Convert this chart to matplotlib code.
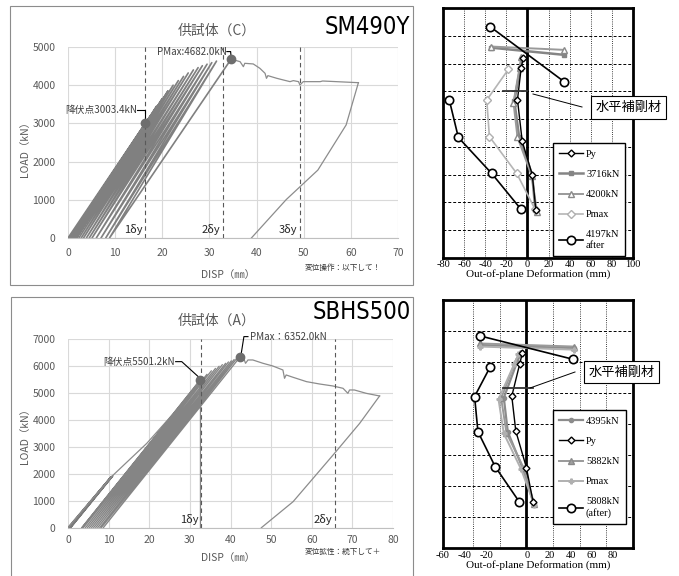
import matplotlib.pyplot as plt
import numpy as np
from matplotlib.patches import Rectangle
from matplotlib.lines import Line2D

plt.rcParams['font.family'] = ['Noto Sans CJK JP', 'DejaVu Sans']
SERIF = 'Liberation Serif'

# ---------------- SM490Y : load - displacement ----------------
c_start = [0.0, 0.3, 0.6, 1.0, 1.4, 1.8, 2.3, 2.8, 3.3, 3.9, 4.5, 5.1, 6.0, 7.0, 8.0, 8.8]
c_peak_x = [16.4, 17.5, 18.8, 20.0, 21.2, 22.3, 23.4, 24.5, 25.5, 26.6, 27.6, 28.5, 29.5, 30.5, 31.5, 34.6]
c_peak_y = [3003, 3200, 3450, 3650, 3850, 4000, 4120, 4230, 4320, 4400, 4460, 4510, 4550, 4590, 4630, 4682]
c_post_x = [34.6, 36.5, 37.2, 37.5, 39.3, 40.7, 41.8, 42.1, 42.4, 44.3, 45.7, 47.1, 47.8, 48.9, 49.2,
            49.9, 53.5, 54.0, 61.6]
c_post_y = [4682, 4616, 4485, 4573, 4556, 4442, 4311, 4180, 4250, 4180, 4136, 4093, 4120, 4093, 4005,
            4093, 4093, 4110, 4066]
c_unload_x = [61.6, 59.0, 53.0, 46.3, 38.9]
c_unload_y = [4066, 2960, 1778, 1007, 0]
c_yield = (16.4, 3003.4)
c_pmax = (34.6, 4682.0)
c_dy = [16.4, 32.8, 49.2]
c_dy_labels = ['1δy', '2δy', '3δy']

# ---------------- SBHS500 : load - displacement ----------------
a_first_x = [0.0, 10.7, 19.4, 26.0, 32.6]
a_first_y = [0, 1895, 3135, 4250, 5501]
a_small_start = [0.0, 0.2, 0.4, 0.6]
a_small_px = [10.4, 10.6, 10.8, 11.0]
a_small_py = [1850, 1880, 1900, 1920]
a_start = [3.4, 3.8, 4.3, 4.8, 5.3, 5.8, 6.3, 6.8, 7.3, 7.8, 8.2, 8.7]
a_peak_x = [33.0, 34.2, 35.3, 36.3, 37.2, 38.0, 38.8, 39.5, 40.2, 40.9, 41.6, 42.4]
a_peak_y = [5550, 5700, 5830, 5920, 6000, 6060, 6110, 6160, 6200, 6250, 6300, 6352]
a_post_x = [42.4, 43.1, 43.7, 44.3, 45.5, 48.0, 50.4, 52.9, 53.3, 53.7, 55.4, 58.7, 61.9, 65.2, 67.7,
            68.9, 69.3, 70.5, 73.4, 76.7]
a_post_y = [6352, 6356, 6108, 6232, 6232, 6108, 6009, 5860, 5551, 5675, 5588, 5427, 5340, 5266, 5179,
            4993, 5117, 5117, 4993, 4894]
a_unload_x = [76.7, 71.8, 65.6, 55.4, 47.6]
a_unload_y = [4894, 3878, 2763, 966, 0]
a_yield = (32.6, 5501.2)
a_pmax = (42.4, 6352.0)
a_dy = [32.8, 65.6]
a_dy_labels = ['1δy', '2δy']

# ---------------- out-of-plane deformation (top) ----------------
nan = np.nan
t_py_x = [-4, -6, -9.5, -5, 4.5, 8]
t_py_y = [7.2, 6.85, 5.7, 4.2, 3.0, 1.72]
t_3716_x = [-34.6, 34.9, nan, -5.4, -7.0, -12.5, -8.0, 4.5, 7.5]
t_3716_y = [7.58, 7.32, nan, 7.2, 6.83, 5.65, 4.37, 2.98, 1.72]
t_4200_x = [-34.6, 34.9, nan, -6, -7.5, -13.3, -9.5, 4.1, 9]
t_4200_y = [7.62, 7.5, nan, 7.25, 6.85, 5.6, 4.35, 2.95, 1.65]
t_pmax_x = [-18.1, -38.7, -36.2, -10.2, 7.3]
t_pmax_y = [6.80, 5.69, 4.37, 3.04, 1.74]
t_after_x = [-35.6, 34.9, nan, -74.3, -65.7, -34.0, -6.0]
t_after_y = [8.34, 6.35, nan, 5.69, 4.34, 3.04, 1.74]

# ---------------- out-of-plane deformation (bottom) ----------------
b_4395_x = [-35, 36, nan, -4, -7, -17, -14, -3, 5.5]
b_4395_y = [6.55, 6.45, nan, 6.3, 6.0, 4.85, 3.75, 2.6, 1.45]
b_py_x = [-3, -5, -11, -8, 0, 5]
b_py_y = [6.3, 5.95, 4.9, 3.78, 2.6, 1.5]
b_5882_x = [-35, 36, nan, -5, -8, -19, -15, -2, 6]
b_5882_y = [6.6, 6.5, nan, 6.3, 6.05, 4.83, 3.72, 2.58, 1.42]
b_pmax_x = [-35, 36, nan, -6, -9, -21, -17, -4, 6]
b_pmax_y = [6.5, 6.4, nan, 6.25, 5.95, 4.8, 3.7, 2.55, 1.4]
b_after_x = [-34.6, 35.1, nan, -27.2, -39.0, -36.5, -23.5, -5.4]
b_after_y = [6.84, 6.09, nan, 5.85, 4.89, 3.76, 2.63, 1.50]

W, H = 679, 576
fig = plt.figure(figsize=(W / 100, H / 100), dpi=100)


def fpos(l, t, r, b):
    return [l / W, 1 - b / H, (r - l) / W, (b - t) / H]


def fx(px):
    return px / W


def fy(py):
    return 1 - py / H


def loops(ax, starts, pxs, pys, color, lw):
    xs, ys = [], []
    for s, px, py in zip(starts, pxs, pys):
        xs += [s, px]
        ys += [0, py]
    ax.plot(xs, ys, color=color, lw=lw, solid_joinstyle='round')


def style_left(ax, xmax, ymax, ystep, xpad):
    ax.set_xlim(0, xmax)
    ax.set_ylim(0, ymax)
    ax.set_xticks(range(0, xmax + 1, 10))
    ax.set_yticks(range(0, ymax + 1, ystep))
    ax.grid(True, color='#d9d9d9', lw=0.8)
    ax.set_axisbelow(True)
    for s in ax.spines.values():
        s.set_visible(False)
    ax.spines['bottom'].set_visible(True)
    ax.spines['bottom'].set_color('#bfbfbf')
    ax.tick_params(length=0, labelsize=7.5, labelcolor='#595959')
    ax.tick_params(axis='x', pad=xpad)
    ax.tick_params(axis='y', pad=9)


TITLE_FONT = dict(fontsize=17, family='DejaVu Sans', fontstretch='condensed', color='k')

# ---- panel borders ----
fig.patches.append(Rectangle((fx(10), fy(285)), 403 / W, 279 / H, transform=fig.transFigure,
                             fill=False, ec='#8c8c8c', lw=0.8))
fig.patches.append(Rectangle((fx(11), fy(580)), 402 / W, 283 / H, transform=fig.transFigure,
                             fill=False, ec='#8c8c8c', lw=0.8))

# ================= top-left: SM490Y =================
ax1 = fig.add_axes(fpos(68, 47, 398, 238))
style_left(ax1, 70, 5000, 1000, 7)
loops(ax1, c_start, c_peak_x, c_peak_y, '#808080', 1.2)
ax1.plot(c_post_x, c_post_y, color='#8c8c8c', lw=0.9)
ax1.plot(c_unload_x, c_unload_y, color='#8c8c8c', lw=0.9)
for x, lab in zip(c_dy, c_dy_labels):
    ax1.axvline(x, color='#595959', ls=(0, (4, 3)), lw=0.8)
    ax1.text(x - 0.6, 230, lab, ha='right', va='center', fontsize=8, color='#262626')
ax1.plot(*c_yield, 'o', ms=6, color='#6e6e6e', zorder=5)
ax1.plot(*c_pmax, 'o', ms=6, color='#6e6e6e', zorder=5)
ax1.text(14.6, 3354, '降伏点3003.4kN', ha='right', va='center', fontsize=7, color='#404040')
ax1.plot([14.7, 16.3, 16.3], [3354, 3354, 3050], color='k', lw=0.8)
ax1.text(33.6, 4880, 'PMax:4682.0kN', ha='right', va='center', fontsize=7, color='#404040')
ax1.plot([33.7, 34.5, 34.6], [4880, 4880, 4730], color='k', lw=0.8)

fig.text(fx(217), fy(31), '供試体（C）', ha='center', va='center', fontsize=10, color='#595959')
fig.text(fx(367), fy(27), 'SM490Y', ha='center', va='center', **TITLE_FONT)
fig.text(fx(25), fy(147), 'LOAD（kN）', rotation=90, ha='center', va='center', fontsize=7.5,
         color='#595959')
fig.text(fx(228), fy(275), 'DISP（㎜）', ha='center', va='center', fontsize=7.5, color='#595959')
fig.text(fx(343), fy(268), '変位操作：以下して！', ha='center', va='center', fontsize=5.5,
         color='#333333')

# ================= bottom-left: SBHS500 =================
ax2 = fig.add_axes(fpos(68, 339.3, 393, 527.7))
style_left(ax2, 80, 7000, 1000, 5)
loops(ax2, a_small_start, a_small_px, a_small_py, '#7a7a7a', 1.2)
ax2.plot(a_first_x, a_first_y, color='#8c8c8c', lw=0.9)
loops(ax2, [a_first_x[-1]] + a_start, [a_first_x[-1]] + a_peak_x, [a_first_y[-1]] + a_peak_y,
      '#858585', 0.9)
ax2.plot(a_post_x, a_post_y, color='#8c8c8c', lw=0.9)
ax2.plot(a_unload_x, a_unload_y, color='#8c8c8c', lw=0.9)
for x, lab in zip(a_dy, a_dy_labels):
    ax2.axvline(x, color='#595959', ls=(0, (4, 3)), lw=0.8)
    ax2.text(x - 0.6, 300, lab, ha='right', va='center', fontsize=8, color='#262626')
ax2.plot(*a_yield, 'o', ms=6, color='#6e6e6e', zorder=5)
ax2.plot(*a_pmax, 'o', ms=6, color='#6e6e6e', zorder=5)
ax2.text(26.3, 6170, '降伏点5501.2kN', ha='right', va='center', fontsize=7, color='#404040')
ax2.plot([26.5, 28.0, 32.3], [6170, 6170, 5580], color='k', lw=0.8)
ax2.text(44.7, 7100, 'PMax：6352.0kN', ha='left', va='center', fontsize=7, color='#404040',
         clip_on=False)
ax2.plot([44.3, 43.3, 42.6], [7100, 7100, 6430], color='k', lw=0.8, clip_on=False)

fig.text(fx(217), fy(321), '供試体（A）', ha='center', va='center', fontsize=10, color='#595959')
fig.text(fx(362), fy(312), 'SBHS500', ha='center', va='center', **TITLE_FONT)
fig.text(fx(25), fy(433), 'LOAD（kN）', rotation=90, ha='center', va='center', fontsize=7.5,
         color='#595959')
fig.text(fx(228), fy(558), 'DISP（㎜）', ha='center', va='center', fontsize=7.5, color='#595959')
fig.text(fx(343), fy(552), '変位拡性：続下して＋', ha='center', va='center', fontsize=5.5,
         color='#333333')


# ================= right panels =================
def style_right(ax, xlim, ylim, gridx, xticks, xticklabels):
    ax.set_xlim(*xlim)
    ax.set_ylim(*ylim)
    ax.set_yticks([])
    for y in range(1, ylim[1]):
        ax.axhline(y, color='k', ls=(0, (3, 2)), lw=0.7, zorder=0)
    for x in gridx:
        ax.axvline(x, color='k', ls=(0, (1, 1.6)), lw=0.6, zorder=0)
    ax.axvline(0, color='k', lw=2, zorder=1)
    for s in ax.spines.values():
        s.set_linewidth(2)
    ax.set_xticks(xticks)
    ax.set_xticklabels(xticklabels, fontfamily=SERIF, fontsize=7.5)
    ax.tick_params(length=0, pad=2)
    ax.set_xlabel('Out-of-plane Deformation (mm)', fontfamily=SERIF, fontsize=8, labelpad=0)


def right_legend(ax, order, box):
    h, l = ax.get_legend_handles_labels()
    leg = ax.legend([h[i] for i in order], [l[i] for i in order], loc='upper left',
                    bbox_to_anchor=box, mode='expand',
                    prop={'family': SERIF, 'size': 7.5}, labelspacing=1.05, handlelength=2.3,
                    handletextpad=0.25, borderpad=0.6, fancybox=False, framealpha=1)
    leg.get_frame().set_edgecolor('k')
    leg.get_frame().set_linewidth(1.0)


ax3 = fig.add_axes(fpos(443.3, 8.3, 632.7, 257.7))
style_right(ax3, (-80, 100), (0, 9), [-60, -40, -20, 20, 40, 60, 80],
            list(range(-80, 101, 20)), [str(v) for v in range(-80, 101, 20)])
ax3.plot(t_3716_x, t_3716_y, color='#858585', lw=1.8, marker='s', ms=3, mfc='#858585',
         mec='#858585', label='3716kN')
ax3.plot(t_4200_x, t_4200_y, color='#9a9a9a', lw=1.4, marker='^', ms=5, mfc='white',
         mec='#8a8a8a', label='4200kN')
ax3.plot(t_pmax_x, t_pmax_y, color='#b5b5b5', lw=1.2, marker='D', ms=4, mfc='white',
         mec='#b0b0b0', label='Pmax')
ax3.plot(t_py_x, t_py_y, color='k', lw=1.0, marker='D', ms=3.5, mfc='white', mec='k', label='Py')
ax3.plot(t_after_x, t_after_y, color='k', lw=1.2, marker='o', ms=6, mfc='white', mec='k',
         mew=1.2, label='4197kN\nafter', zorder=4)
ax3.plot([-22.9, -0.6], [6.02, 6.02], color='#333333', lw=1.3)
right_legend(ax3, [3, 0, 1, 2, 4], (0.553, 0.019, 0.433, 0.461))

ax4 = fig.add_axes(fpos(442.7, 300, 632.7, 548.3))
style_right(ax4, (-60, 80), (0, 8), [-40, -20, 20, 40, 60],
            [-63, -46.4, -30.4, 0.7, 17.3, 33.8, 49.4, 64.7],
            ['-60', '-40', '-20', '0', '20', '40', '60', '80'])
ax4.plot(b_4395_x, b_4395_y, color='#8c8c8c', lw=1.6, marker='o', ms=3, mfc='#8c8c8c',
         mec='#8c8c8c', label='4395kN')
ax4.plot(b_5882_x, b_5882_y, color='#9a9a9a', lw=1.4, marker='^', ms=5, mfc='#a0a0a0',
         mec='#8a8a8a', label='5882kN')
ax4.plot(b_pmax_x, b_pmax_y, color='#b0b0b0', lw=1.4, marker='P', ms=3.5, mfc='#b0b0b0',
         mec='#b0b0b0', label='Pmax')
ax4.plot(b_py_x, b_py_y, color='k', lw=1.0, marker='D', ms=3.5, mfc='white', mec='k', label='Py')
ax4.plot(b_after_x, b_after_y, color='k', lw=1.2, marker='o', ms=6, mfc='white', mec='k',
         mew=1.2, label='5808kN\n(after)', zorder=4)
ax4.plot([-17.8, 4.9], [5.16, 5.16], color='#333333', lw=1.3)
right_legend(ax4, [0, 3, 1, 2, 4], (0.554, 0.106, 0.437, 0.471))

# ---- 水平補剛材 call-outs ----
for cx, cy, l0, l1 in [(628.5, 107.5, (533, 94), (582, 107)),
                       (621.5, 372, (530, 388), (575, 372))]:
    fig.text(fx(cx), fy(cy), '水平補剛材', ha='center', va='center', fontsize=9.5,
             bbox=dict(boxstyle='square,pad=0.35', fc='white', ec='k', lw=0.8))
    fig.lines.append(Line2D([fx(l0[0]), fx(l1[0])], [fy(l0[1]), fy(l1[1])],
                            transform=fig.transFigure, color='k', lw=0.7))

fig.savefig('out.png', dpi=100)
